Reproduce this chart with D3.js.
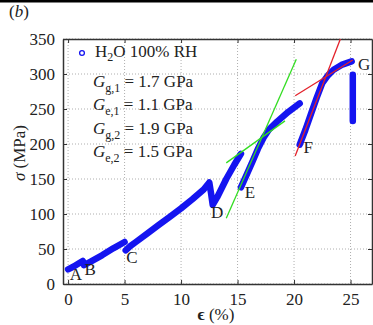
<!DOCTYPE html>
<html><head><meta charset="utf-8">
<script src="https://cdn.jsdelivr.net/npm/d3@7"></script>
<style>
html,body{margin:0;padding:0;background:#fff;}
svg text{font-family:"Liberation Serif","Times New Roman","DejaVu Serif",serif !important;}
</style></head>
<body>
<svg id="c" width="373" height="325"></svg>
<script>
// ---- data ----
const xTicks = [0, 5, 10, 15, 20, 25];
const yTicks = [0, 50, 100, 150, 200, 250, 300, 350];
const segAB = [[0,21],[0.5,25],[1.0,30],[1.3,33],[1.4,27],[2,32],[3,41],[4,51],[5,60]];
const segCD = [[5.1,48],[5.5,54],[6,60],[7,72],[8,84],[9,96],[10,108],[11,121],[12,135],[12.5,145],[12.65,130],[12.8,113],[13.2,124],[14,150],[14.7,170],[15.3,186]];
const segE = [[15.3,138],[15.8,156],[16.3,174],[16.8,193],[17.3,209],[17.8,221],[18.5,232],[19.5,246],[20.5,258]];
const segF = [[20.5,199],[21,220],[21.5,243],[22,266],[22.5,287],[23,298],[23.5,306],[24.2,313],[25.1,318]];
const segG = [[25.2,299],[25.2,233]];
const greenSteep = [[14.0,94],[20.2,321]];
const greenShallow = [[14.0,173],[19.2,233]];
const redSteep = [[20.1,183],[24.1,350]];
const redShallow = [[20.1,269],[25.2,320]];
const pointLabels = [
  {t:"A", p:[0.7,6]}, {t:"B", p:[1.95,13]}, {t:"C", p:[5.65,30]},
  {t:"D", p:[13.2,94]}, {t:"E", p:[16.1,123]}, {t:"F", p:[21.25,187]}, {t:"G", p:[26.2,306]}
];
const moduli = [
  {sub:"g,1", val:"1.7"}, {sub:"e,1", val:"1.1"}, {sub:"g,2", val:"1.9"}, {sub:"e,2", val:"1.5"}
];

// ---- chart ----
const svg = d3.select("#c");
const L = 63, R = 372, T = 39, B = 284;
const x = d3.scaleLinear().domain([-0.45, 26.9]).range([L, R]);
const y = d3.scaleLinear().domain([0, 350]).range([B, T]);
const FF = "Liberation Serif";

svg.append("rect").attr("x",0).attr("y",0).attr("width",373).attr("height",2.5).attr("fill","#000");
svg.append("text").attr("x",9).attr("y",17).attr("font-size",17).attr("fill","#222")
  .html('(<tspan font-style="italic">b</tspan>)');

// grid
const g = svg.append("g");
g.selectAll(".gx").data(xTicks).join("line")
  .attr("x1", d=>x(d)).attr("x2", d=>x(d)).attr("y1", T).attr("y2", B)
  .attr("stroke","#999").attr("stroke-width",0.8).attr("stroke-dasharray","1,2");
g.selectAll(".gy").data(yTicks).join("line")
  .attr("y1", d=>y(d)).attr("y2", d=>y(d)).attr("x1", L).attr("x2", R)
  .attr("stroke","#999").attr("stroke-width",0.8).attr("stroke-dasharray","1,2");

// axes
const fs = 17;
const axB = svg.append("g").attr("transform",`translate(0,${B})`)
  .call(d3.axisBottom(x).tickValues(xTicks).tickSize(-4).tickPadding(9).tickSizeOuter(0));
const axT = svg.append("g").attr("transform",`translate(0,${T})`)
  .call(d3.axisTop(x).tickValues(xTicks).tickSize(-4).tickFormat("").tickSizeOuter(0));
const axL = svg.append("g").attr("transform",`translate(${L},0)`)
  .call(d3.axisLeft(y).tickValues(yTicks).tickSize(-4).tickPadding(8).tickSizeOuter(0));
const axR = svg.append("g").attr("transform",`translate(${R},0)`)
  .call(d3.axisRight(y).tickValues(yTicks).tickSize(-4).tickFormat("").tickSizeOuter(0));
[axB,axT,axL,axR].forEach(a=>{
  a.attr("font-family", FF);
  a.select(".domain").attr("stroke","#333").attr("stroke-width",1.5);
  a.selectAll(".tick line").attr("stroke","#333").attr("stroke-width",1);
  a.selectAll("text").attr("font-family",FF).attr("font-size",fs).attr("fill","#222");
});

// data curves
const line = d3.line().x(d=>x(d[0])).y(d=>y(d[1]));
const blue = "#1414f0";
[segAB, segCD, segE, segF, segG].forEach(s=>{
  svg.append("path").attr("d", line(s)).attr("fill","none").attr("stroke", blue)
    .attr("stroke-width",6.5).attr("stroke-linecap","round").attr("stroke-linejoin","round");
});
[[greenSteep,"#33dd22"],[greenShallow,"#33dd22"],[redSteep,"#e3222b"],[redShallow,"#e3222b"]].forEach(([s,c])=>{
  svg.append("path").attr("d", line(s)).attr("fill","none").attr("stroke", c).attr("stroke-width",1.3);
});

// point labels
svg.selectAll(".pl").data(pointLabels).join("text")
  .attr("x", d=>x(d.p[0])).attr("y", d=>y(d.p[1])).attr("text-anchor","middle")
  .attr("font-size",fs).attr("fill","#222").text(d=>d.t);

// legend
svg.append("circle").attr("cx",82).attr("cy",53).attr("r",2.4).attr("fill","none")
  .attr("stroke", blue).attr("stroke-width",1.3);
svg.append("text").attr("x",95).attr("y",57).attr("font-size",fs).attr("fill","#222")
  .html('H<tspan font-size="12" dy="4">2</tspan><tspan dy="-4">O 100% RH</tspan>');
svg.selectAll(".mod").data(moduli).join("text")
  .attr("x",93).attr("y",(d,i)=>87 + i*23.4).attr("font-size",fs).attr("fill","#222")
  .html(d=>`<tspan font-style="italic">G</tspan><tspan font-size="12" dy="5">${d.sub}</tspan><tspan dy="-5"> = ${d.val} GPa</tspan>`);

// axis titles
svg.append("text").attr("transform","translate(25,153) rotate(-90)").attr("text-anchor","middle")
  .attr("font-size",fs).attr("fill","#222")
  .html('<tspan font-style="italic">σ</tspan> (MPa)');
svg.append("text").attr("x",216).attr("y",320).attr("text-anchor","middle")
  .attr("font-size",fs).attr("fill","#222")
  .html('<tspan font-weight="bold">ϵ</tspan> (%)');
svg.selectAll("text").attr("font-family", FF);
</script>
</body></html>
